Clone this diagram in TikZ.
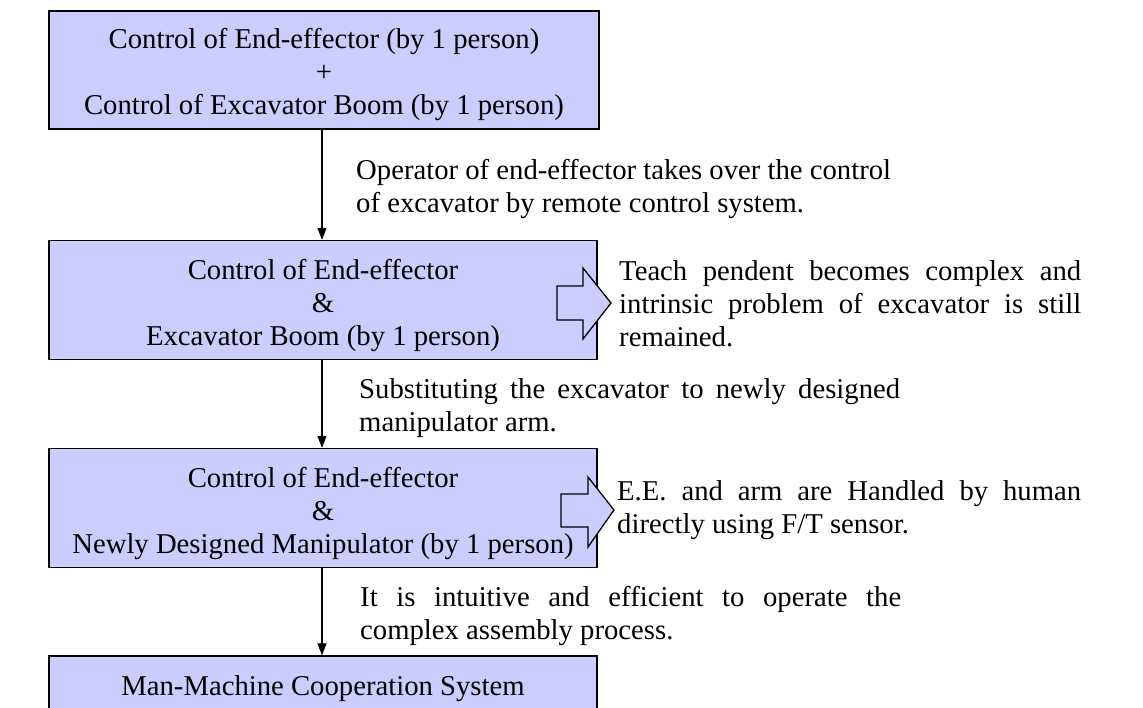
\documentclass[tikz,border=0pt]{standalone}
\usepackage{fontspec}
\setmainfont{Liberation Serif}
\usetikzlibrary{arrows.meta}
\definecolor{boxblue}{RGB}{204,204,255}
\tikzset{
  stagebox/.style={draw=black, fill=boxblue, line width=1.3pt, inner sep=0pt},
  boxtext/.style={align=center, inner sep=0pt, font=\fontsize{28.7}{33}\selectfont},
  note/.style={align=left, anchor=base west, inner sep=0pt,
    font=\fontsize{28.7}{33}\selectfont},
  flow/.style={-{Triangle[length=12pt,width=9pt]}, line width=1.2pt},
  hollow/.style={draw=black, fill=boxblue, line width=1.3pt, line join=miter},
}
\begin{document}
\begin{tikzpicture}[x=1pt,y=-1pt]
\useasboundingbox (0,0) rectangle (1143,707);
\clip (0,0) rectangle (1143,707);
\fill[white] (0,0) rectangle (1143,707);

\node[stagebox, minimum width=550pt, minimum height=118pt] (b1) at (324,70) {};
\node[boxtext] (b1t) at ([yshift=-4pt]b1.center)
  {Control of End-effector (by 1 person)\\+\\Control of Excavator Boom (by 1 person)};
\node[stagebox, minimum width=548pt, minimum height=119pt] (b2) at (323,300) {};
\node[boxtext] (b2t) at ([yshift=-5pt]b2.center)
  {Control of End-effector\\\&\\Excavator Boom (by 1 person)};
\node[stagebox, minimum width=548pt, minimum height=119pt] (b3) at (323,508) {};
\node[boxtext] (b3t) at ([yshift=-5.5pt]b3.center)
  {Control of End-effector\\\&\\Newly Designed Manipulator (by 1 person)};
\node[stagebox, minimum width=548pt, minimum height=64pt] (b4) at (323,688) {};
\node[boxtext] (b4t) at ([yshift=-1pt]b4.center) {Man-Machine Cooperation System};

\draw[flow] (b1.south -| 322,0) -- (b2.north -| 322,0);
\draw[flow] (b2.south -| 322,0) -- (b3.north -| 322,0);
\draw[flow] (b3.south -| 322,0) -- (b4.north -| 322,0);

\node[note] (n1) at (356,212)
  {Operator of end-effector takes over the control\\of excavator by remote control system.};
\node[note] (n2) at (359,431)
  {\makebox[541pt][s]{Substituting the excavator to newly designed}\\manipulator arm.};
\node[note] (n3) at (360,639)
  {\makebox[541pt][s]{It is intuitive and efficient to operate the}\\complex assembly process.};

\coordinate (a1) at (557,286);
\draw[hollow] (a1) -- ++(26,0) -- (583,268) -- (611,303) -- (583,339) -- (583,320) -- (557,320) -- cycle;
\coordinate (a2) at (561,494);
\draw[hollow] (a2) -- ++(27,0) -- (588,477) -- (614,510) -- (588,547) -- (588,527) -- (561,527) -- cycle;

\node[note] (t1) at (619,346)
  {\makebox[462pt][s]{Teach pendent becomes complex and}\\\makebox[462pt][s]{intrinsic problem of excavator is still}\\remained.};
\node[note] (t2) at (617,533)
  {\makebox[464pt][s]{E.E. and arm are Handled by human}\\directly using F/T sensor.};
\end{tikzpicture}
\end{document}
